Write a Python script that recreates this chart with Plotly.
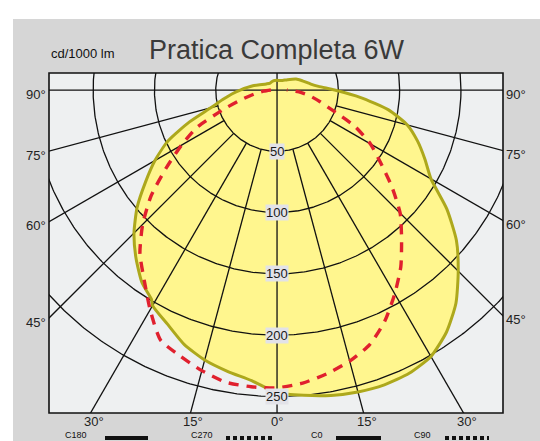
import numpy as np
import plotly.graph_objects as go

# ---------------- data (cd/1000 lm) ----------------
title_text = "Pratica Completa 6W"
unit_text = "cd/1000 lm"

# solid curve, right half (C0)
c0_angles = [0, 5, 10, 15, 20, 25, 30, 35, 40, 45, 50, 55, 60, 65, 70, 75, 80, 85, 90,
             95, 100, 110, 120, 135, 150, 165, 180]
c0_values = [247, 250, 253, 255, 256, 255, 251, 241, 227, 209, 191, 169, 145, 133, 122, 110, 92, 68, 47,
             34, 28, 22, 18, 12, 9, 8, 8]
# solid curve, left half (C180)
c180_angles = [0, 5, 10, 15, 20, 25, 30, 31, 35, 40, 45, 50, 55, 60, 65, 70, 75, 80, 85, 90,
               100, 110, 120, 135, 150, 165, 180]
c180_values = [247, 238, 233, 228, 221, 211, 203, 199, 192, 179, 165, 149, 131, 115, 98, 76, 56, 45, 37, 30,
               20, 13, 10, 8, 8, 8, 8]
# dashed curve, right half (C90)
c90_angles = [0, 5, 10, 15, 20, 25, 30, 35, 40, 45, 50, 55, 60, 65, 70, 75, 80, 85, 90]
c90_values = [243, 240, 235, 229, 221, 208, 192, 176, 158, 142, 122, 103, 88, 70, 48, 36, 27, 18, 8]
# dashed curve, left half (C270)
c270_angles = [0, 5, 10, 15, 20, 25, 30, 35, 40, 45, 50, 55, 60, 65, 70, 75, 80, 85, 90]
c270_values = [243, 243, 242, 237, 231, 225, 207, 189, 174, 155, 134, 110, 90, 72, 47, 30, 19, 11, 5]

radial_ticks = [50, 100, 150, 200, 250]
radial_labels = ["50", "100", "150", "200", "250"]
spoke_angles = [-75, -60, -45, -30, -15, 15, 30, 45, 60, 75]
side_angles = [90, 75, 60, 45]
side_labels = ["90°", "75°", "60°", "45°"]
bottom_angles = [-30, -15, 0, 15, 30]
bottom_labels = ["30°", "15°", "0°", "15°", "30°"]
legend_names = ["C180", "C270", "C0", "C90"]
legend_dashed = [False, True, False, True]

# ---------------- geometry helpers ----------------
X_MIN, X_MAX = -186.0, 184.3
Y_MIN, Y_MAX = -263.5, 13.9


def polar_xy(angles, values):
    a = np.radians(np.asarray(angles, dtype=float))
    r = np.asarray(values, dtype=float)
    return r * np.sin(a), -r * np.cos(a)


# solid curve: C180 on the left (negative angles), C0 on the right
left_a = [-a for a in c180_angles[::-1]]
left_v = c180_values[::-1]
solid_x, solid_y = polar_xy(left_a + c0_angles[1:], left_v + c0_values[1:])

dash_a = [-a for a in c270_angles[::-1]] + c90_angles[1:]
dash_v = c270_values[::-1] + c90_values[1:]
dash_x, dash_y = polar_xy(dash_a, dash_v)

fig = go.Figure()

# yellow fill
fig.add_trace(go.Scatter(x=solid_x, y=solid_y, mode="lines", fill="toself",
                         fillcolor="#FFF68E", line=dict(width=0, shape="spline", smoothing=0.6),
                         hoverinfo="skip"))

# grid circles
t = np.linspace(0, 2 * np.pi, 721)
gx, gy = [], []
for r in radial_ticks:
    gx += list(r * np.cos(t)) + [None]
    gy += list(r * np.sin(t)) + [None]
# spokes from the first circle outward
for a in spoke_angles:
    sx, sy = polar_xy([a, a], [radial_ticks[0], 600])
    gx += list(sx) + [None]
    gy += list(sy) + [None]
# 0 deg and 90 deg axes
gx += [0, 0, None, -400, 400, None]
gy += [100, -400, None, 0, 0, None]
fig.add_trace(go.Scatter(x=gx, y=gy, mode="lines", line=dict(color="#111111", width=1.3),
                         hoverinfo="skip"))

# solid outline
fig.add_trace(go.Scatter(x=solid_x, y=solid_y, mode="lines",
                         line=dict(color="#ADA81C", width=3.0, shape="spline", smoothing=0.6),
                         hoverinfo="skip"))
# dashed curve
fig.add_trace(go.Scatter(x=dash_x, y=dash_y, mode="lines",
                         line=dict(color="#E0202E", width=3.4, dash="10px,8px",
                                   shape="spline", smoothing=0.6),
                         hoverinfo="skip"))

W, H = 540, 441
ML, MR, MT, MB = 49, 37, 73, 28
PW, PH = W - ML - MR, H - MT - MB


def px_x(p):
    return (p - ML) / PW


def px_y(p):
    return (H - MB - p) / PH


annotations = []
FONT = "Liberation Sans, Arial, sans-serif"
# title
annotations.append(dict(text=title_text, x=px_x(277), y=px_y(50), xref="paper", yref="paper",
                        xanchor="center", yanchor="middle", showarrow=False,
                        font=dict(family=FONT, size=27, color="#3A3A3A")))
annotations.append(dict(text=unit_text, x=px_x(49), y=px_y(54), xref="paper", yref="paper",
                        xanchor="left", yanchor="middle", showarrow=False,
                        font=dict(family="Liberation Sans Narrow, " + FONT, size=13, color="#111111")))
# radial labels
for r, lab in zip(radial_ticks, radial_labels):
    annotations.append(dict(text=lab, x=0, y=-r, xref="x", yref="y", showarrow=False,
                            xanchor="center", yanchor="middle", bgcolor="#E2E2E8", borderpad=0,
                            font=dict(family=FONT, size=13, color="#1A1A1A")))
# side labels
for a, lab in zip(side_angles, side_labels):
    yl = -abs(X_MIN) / np.tan(np.radians(a)) if a != 90 else 0.0
    yr = -abs(X_MAX) / np.tan(np.radians(a)) if a != 90 else 0.0
    annotations.append(dict(text=lab, x=0, y=yl, xref="paper", yref="y", showarrow=False,
                            xanchor="right", yanchor="middle", xshift=-1, yshift=-4,
                            font=dict(family=FONT, size=13, color="#222222")))
    annotations.append(dict(text=lab, x=1, y=yr, xref="paper", yref="y", showarrow=False,
                            xanchor="left", yanchor="middle", xshift=1, yshift=-4,
                            font=dict(family=FONT, size=13, color="#222222")))
# bottom labels
for a, lab in zip(bottom_angles, bottom_labels):
    xb = abs(Y_MIN) * np.tan(np.radians(a))
    annotations.append(dict(text=lab, x=xb, y=0, xref="x", yref="paper", showarrow=False,
                            xanchor="center", yanchor="top", xshift=3 if a != 0 else 0, yshift=0,
                            borderpad=0,
                            font=dict(family=FONT, size=13, color="#222222")))

# legend (at the very bottom edge of the image)
legend_text_x = [64, 190, 310, 413]
legend_line_x = [(105, 148), (226, 272), (336, 381), (445, 489)]
shapes = [
    dict(type="rect", xref="paper", yref="paper", x0=px_x(13), x1=px_x(545), y0=px_y(445), y1=px_y(19),
         fillcolor="#D6D6D6", line=dict(width=0), layer="below"),
    dict(type="rect", xref="paper", yref="paper", x0=0, x1=1, y0=0, y1=1,
         fillcolor="#EEF0F1", line=dict(width=0), layer="below"),
    dict(type="rect", xref="paper", yref="paper", x0=0, x1=1, y0=0, y1=1,
         line=dict(color="#111111", width=1.6), layer="above"),
]
for name, tx, (l0, l1), dashed in zip(legend_names, legend_text_x, legend_line_x, legend_dashed):
    annotations.append(dict(text=name, x=px_x(tx), y=px_y(441), xref="paper", yref="paper",
                            xanchor="left", yanchor="bottom", showarrow=False, borderpad=0,
                            font=dict(family=FONT, size=9, color="#111111")))
    shapes.append(dict(type="line", xref="paper", yref="paper", x0=px_x(l0), x1=px_x(l1),
                       y0=px_y(438), y1=px_y(438),
                       line=dict(color="#111111", width=4, dash="4px,3px" if dashed else "solid")))

fig.update_layout(
    width=W, height=H,
    margin=dict(l=ML, r=MR, t=MT, b=MB, autoexpand=False),
    paper_bgcolor="white", plot_bgcolor="rgba(0,0,0,0)",
    showlegend=False,
    xaxis=dict(range=[X_MIN, X_MAX], visible=False, fixedrange=True),
    yaxis=dict(range=[Y_MIN, Y_MAX], visible=False, fixedrange=True),
    annotations=annotations,
    shapes=shapes,
)

fig.write_html("out.html", config={"displayModeBar": False},
               post_script="document.body.style.margin='0';document.body.style.overflow='hidden';")
